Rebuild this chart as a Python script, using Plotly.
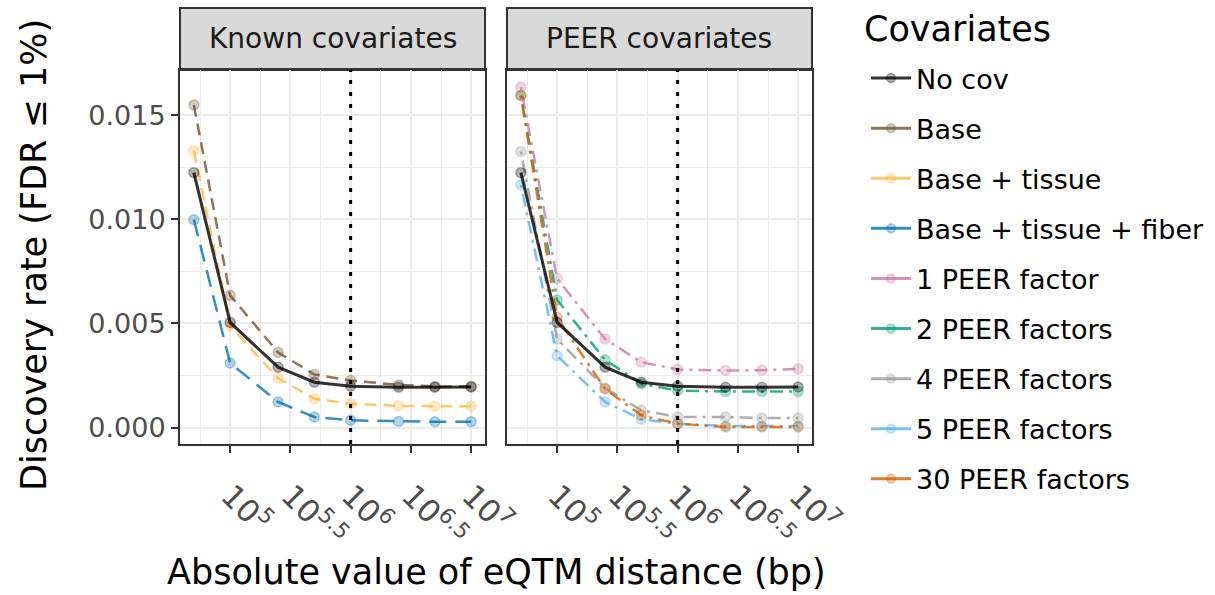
import numpy as np
import plotly.graph_objects as go

# ---------------- data ----------------
distance_bp = [5e4, 1e5, 2.5e5, 5e5, 1e6, 2.5e6, 5e6, 1e7]
threshold_bp = 1e6

no_cov            = [0.01224, 0.00505, 0.00290, 0.00218, 0.00199, 0.00194, 0.00194, 0.00195]
base              = [0.01549, 0.00635, 0.00361, 0.00255, 0.00226, 0.00205, 0.00198, 0.00198]
base_tissue       = [0.01329, 0.00489, 0.00237, 0.00139, 0.00115, 0.00104, 0.00103, 0.00103]
base_tissue_fiber = [0.00998, 0.00310, 0.00123, 0.00051, 0.00035, 0.00030, 0.00028, 0.00028]
peer_1            = [0.01635, 0.00715, 0.00425, 0.00314, 0.00279, 0.00274, 0.00275, 0.00282]
peer_2            = [0.01594, 0.00613, 0.00326, 0.00210, 0.00178, 0.00173, 0.00173, 0.00173]
peer_4            = [0.01325, 0.00425, 0.00190, 0.00083, 0.00051, 0.00051, 0.00046, 0.00046]
peer_5            = [0.01165, 0.00345, 0.00123, 0.00040, 0.00019, 0.00008, 0.00008, 0.00008]
peer_30           = [0.01594, 0.00529, 0.00186, 0.00059, 0.00019, 0.00003, 0.00003, 0.00003]

legend_names = ["No cov", "Base", "Base + tissue", "Base + tissue + fiber",
                "1 PEER factor", "2 PEER factors", "4 PEER factors",
                "5 PEER factors", "30 PEER factors"]
facet_titles = ["Known covariates", "PEER covariates"]

x_tick_exponents = [5, 5.5, 6, 6.5, 7]
x_tick_labels = ["10<sup>5</sup>", "10<sup>5.5</sup>", "10<sup>6</sup>",
                 "10<sup>6.5</sup>", "10<sup>7</sup>"]
y_tick_values = [0.0, 0.005, 0.010, 0.015]
y_tick_labels = ["0.000", "0.005", "0.010", "0.015"]

# ---------------- styles ----------------
rgb = {
    "No cov": (0, 0, 0),
    "Base": (110, 85, 50),
    "Base + tissue": (255, 185, 70),
    "Base + tissue + fiber": (0, 114, 178),
    "1 PEER factor": (204, 121, 167),
    "2 PEER factors": (0, 158, 115),
    "4 PEER factors": (153, 153, 153),
    "5 PEER factors": (86, 180, 233),
    "30 PEER factors": (213, 94, 0),
}
dash_known = "12px,7px"
dash_fiber = "17px,9px"
dash_peer = "3px,6px,13px,6px"

def rgba(name, a):
    r, g, b = rgb[name]
    return f"rgba({r},{g},{b},{a})"

FONT = "DejaVu Sans"
GRID = "#EBEBEB"
BORDER = "#333333"

x_log = np.log10(np.array(distance_bp))
x_pad = 0.05 * (x_log.max() - x_log.min())
x_range = [x_log.min() - x_pad, x_log.max() + x_pad]
all_y = np.array(no_cov + base + base_tissue + base_tissue_fiber + peer_1 + peer_2 + peer_4 + peer_5 + peer_30)
y_pad = 0.05 * (all_y.max() - all_y.min())
y_range = [all_y.min() - y_pad, all_y.max() + y_pad]

fig = go.Figure()

def add_series(name, values, xa, ya, dash, width=2.5):
    fig.add_trace(go.Scatter(
        x=x_log, y=values, mode="lines+markers", name=name,
        xaxis=xa, yaxis=ya, showlegend=False,
        line=dict(color=rgba(name, 0.8), width=width, dash=dash),
        marker=dict(size=10, color=rgba(name, 0.3),
                    line=dict(color=rgba(name, 0.3), width=1.5)),
        hovertemplate=name + ": %{y}<extra></extra>",
    ))

# Known covariates panel
add_series("Base", base, "x", "y", dash_known)
add_series("Base + tissue", base_tissue, "x", "y", dash_known)
add_series("Base + tissue + fiber", base_tissue_fiber, "x", "y", dash_fiber)
add_series("No cov", no_cov, "x", "y", "solid", 3)
# PEER panel
add_series("1 PEER factor", peer_1, "x2", "y2", dash_peer)
add_series("2 PEER factors", peer_2, "x2", "y2", dash_peer)
add_series("4 PEER factors", peer_4, "x2", "y2", dash_peer)
add_series("5 PEER factors", peer_5, "x2", "y2", dash_peer)
add_series("30 PEER factors", peer_30, "x2", "y2", dash_peer)
add_series("No cov", no_cov, "x2", "y2", "solid", 3)

# legend-only entries (solid keys like the reference)
for i, name in enumerate(legend_names):
    fig.add_trace(go.Scatter(
        x=[None], y=[None], mode="lines+markers", name=name,
        legendgroup=f"g{i}", showlegend=True,
        line=dict(color=rgba(name, 0.8), width=3),
        marker=dict(size=9, color=rgba(name, 0.3),
                    line=dict(color=rgba(name, 0.3), width=1.5)),
    ))

# ---------------- layout ----------------
W, H = 1215, 595
left_dom = [180 / W, 485 / W]
right_dom = [507 / W, 812 / W]
y_dom = [1 - 444 / H, 1 - 70 / H]
strip_top = 1 - 8 / H

xaxis_common = dict(
    range=x_range, tickmode="array", tickvals=x_tick_exponents, ticktext=x_tick_labels,
    tickangle=45, ticks="outside", ticklen=7, tickwidth=2, tickcolor=BORDER,
    ticklabelstandoff=12,
    tickfont=dict(family=FONT, size=31, color="#4D4D4D"),
    showgrid=True, gridcolor=GRID, gridwidth=2,
    minor=dict(dtick=0.25, tick0=0, showgrid=True, gridcolor=GRID, gridwidth=1, ticks=""),
    showline=True, mirror=True, linecolor=BORDER, linewidth=2,
    zeroline=False, fixedrange=True,
)
yaxis_common = dict(
    range=y_range, domain=y_dom, tickmode="array", tickvals=y_tick_values,
    showgrid=True, gridcolor=GRID, gridwidth=2,
    minor=dict(dtick=0.0025, tick0=0, showgrid=True, gridcolor=GRID, gridwidth=1, ticks=""),
    showline=True, mirror=True, linecolor=BORDER, linewidth=2,
    zeroline=False, fixedrange=True,
)

fig.update_layout(
    width=W, height=H, margin=dict(l=0, r=0, t=0, b=0, autoexpand=False),
    paper_bgcolor="white", plot_bgcolor="white",
    font=dict(family=FONT, color="black"),
    xaxis=dict(domain=left_dom, anchor="y", **xaxis_common),
    xaxis2=dict(domain=right_dom, anchor="y2", **xaxis_common),
    yaxis=dict(anchor="x", ticktext=y_tick_labels, ticks="outside", ticklen=7,
               tickwidth=2, tickcolor=BORDER,
               tickfont=dict(family=FONT, size=27, color="#4D4D4D"),
               **yaxis_common),
    yaxis2=dict(anchor="x2", matches="y", showticklabels=False, ticks="", **yaxis_common),
    legend=dict(
        x=866 / W, xanchor="left", y=1 - 54 / H, yanchor="top",
        font=dict(family=FONT, size=27, color="black"),
        tracegroupgap=12, itemwidth=40, bgcolor="rgba(0,0,0,0)",
    ),
    showlegend=True,
)

# legend title
fig.add_annotation(xref="paper", yref="paper", x=862 / W, y=1 - 29 / H,
                   text="Covariates", showarrow=False,
                   font=dict(family=FONT, size=35, color="black"),
                   xanchor="left", yanchor="middle")

# threshold lines
for xa in ["x", "x2"]:
    fig.add_shape(type="line", xref=xa, yref=f"{'y' if xa == 'x' else 'y2'} domain",
                  x0=np.log10(threshold_bp), x1=np.log10(threshold_bp), y0=0, y1=1,
                  line=dict(color="black", width=3, dash="4px,8px"))

# facet strips
for dom, title in zip([left_dom, right_dom], facet_titles):
    fig.add_shape(type="rect", xref="paper", yref="paper",
                  x0=dom[0], x1=dom[1], y0=y_dom[1], y1=strip_top,
                  fillcolor="#D9D9D9", line=dict(color=BORDER, width=2), layer="below")
    fig.add_annotation(xref="paper", yref="paper", x=(dom[0] + dom[1]) / 2,
                       y=(y_dom[1] + strip_top) / 2, text=title, showarrow=False,
                       font=dict(family=FONT, size=28, color="#1A1A1A"),
                       xanchor="center", yanchor="middle")

# axis titles
fig.add_annotation(xref="paper", yref="paper", x=496 / W, y=1 - 572 / H,
                   text="Absolute value of eQTM distance (bp)", showarrow=False,
                   font=dict(family=FONT, size=35, color="black"),
                   xanchor="center", yanchor="middle")
fig.add_annotation(xref="paper", yref="paper", x=34 / W, y=1 - 255 / H,
                   text="Discovery rate (FDR ≤ 1%)", showarrow=False, textangle=-90,
                   font=dict(family=FONT, size=35, color="black"),
                   xanchor="center", yanchor="middle")

fig.write_html("out.html")
